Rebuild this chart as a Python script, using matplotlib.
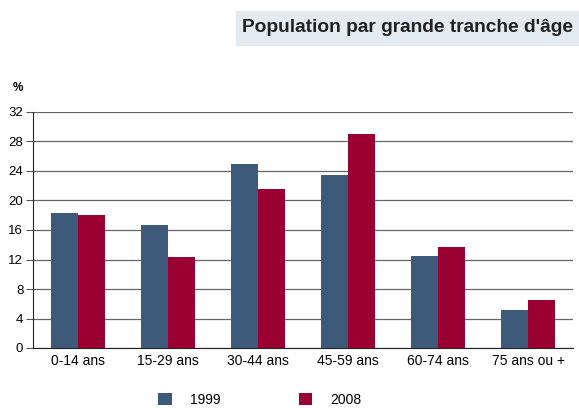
import numpy as np
import matplotlib.pyplot as plt

plt.rcParams['font.family'] = ['Liberation Sans', 'DejaVu Sans']

# Donnees
categories = ['0-14 ans', '15-29 ans', '30-44 ans', '45-59 ans', '60-74 ans', '75 ans ou +']
valeurs_1999 = [18.3, 16.7, 24.9, 23.4, 12.5, 5.2]
valeurs_2008 = [18.1, 12.3, 21.5, 29.0, 13.7, 6.5]
graduations = [0, 4, 8, 12, 16, 20, 24, 28, 32]

bleu = '#3e5a7b'
rouge = '#9a0032'

fig = plt.figure(figsize=(5.79, 4.08), dpi=100)
ax = fig.add_axes([33 / 579, 60 / 408, 540 / 579, 236 / 408])

x = np.arange(len(categories))
w = 0.305
ax.bar(x - w / 2, valeurs_1999, w, color=bleu, label='1999', zorder=3)
ax.bar(x + w / 2, valeurs_2008, w, color=rouge, label='2008', zorder=3)

ax.set_xlim(-0.5, len(categories) - 0.5)
ax.set_ylim(0, 32)
ax.set_yticks(graduations)
ax.set_xticks(x)
ax.set_xticklabels(categories, fontsize=10)
ax.tick_params(axis='y', labelsize=9.5, length=5, color='#555555', pad=2)
ax.tick_params(axis='x', length=0, pad=4)
ax.yaxis.grid(True, color='#666666', linewidth=0.9, zorder=0)

ax.spines['right'].set_visible(False)
ax.spines['top'].set_visible(False)
ax.spines['left'].set_color('#222222')
ax.spines['bottom'].set_color('#222222')

fig.text(13 / 579, 1 - 88 / 408, '%', fontsize=8.5, fontweight='bold', va='center', ha='left')

# Titre dans un cadre
fig.patches.append(plt.Rectangle((236 / 579, 1 - 45 / 408), 343 / 579, 34 / 408,
                                 transform=fig.transFigure, color='#e4ebf0', zorder=0))
fig.text(242 / 579, 1 - 28 / 408, "Population par grande tranche d'âge", fontsize=13.8,
         fontweight='bold', va='center', ha='left', color='#222222')

# Legende
fig.legend(loc='center', bbox_to_anchor=(260 / 579, 1 - 400 / 408), ncol=2, frameon=False,
           fontsize=10, handlelength=0.94, handleheight=0.94, columnspacing=5.7, handletextpad=1.3)

plt.savefig('out.png', dpi=100)
